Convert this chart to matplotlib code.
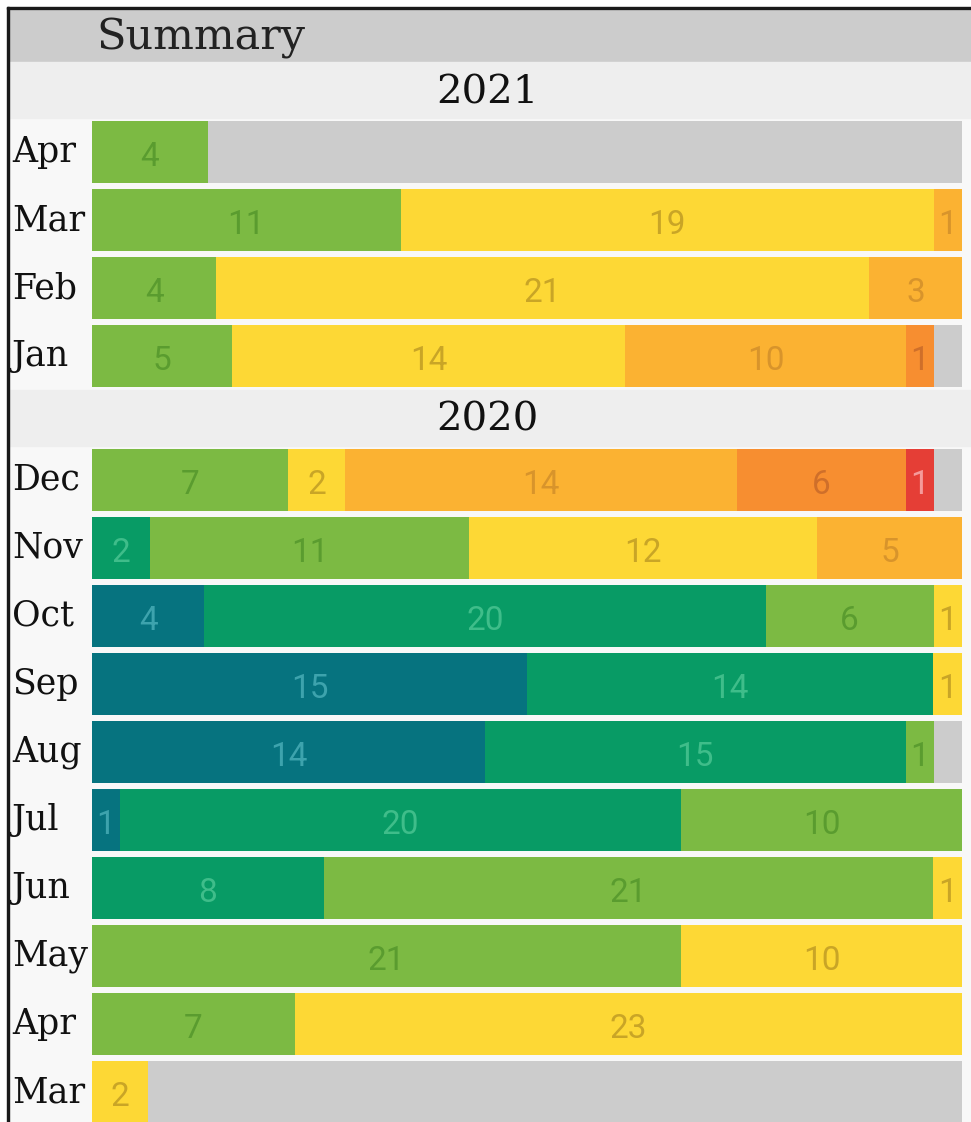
import matplotlib
matplotlib.use("Agg")
import matplotlib.pyplot as plt
from matplotlib.patches import Rectangle
import numpy as np

# ---------------- data ----------------
months = ['Apr', 'Mar', 'Feb', 'Jan',
          'Dec', 'Nov', 'Oct', 'Sep', 'Aug', 'Jul', 'Jun', 'May', 'Apr', 'Mar']
years = [2021, 2021, 2021, 2021,
         2020, 2020, 2020, 2020, 2020, 2020, 2020, 2020, 2020, 2020]

teal         = [0, 0, 0, 0,   0, 0, 4, 15, 14, 1, 0, 0, 0, 0]
green        = [0, 0, 0, 0,   0, 2, 20, 14, 15, 20, 8, 0, 0, 0]
light_green  = [4, 11, 4, 5,  7, 11, 6, 0, 1, 10, 21, 21, 7, 0]
yellow       = [0, 19, 21, 14, 2, 12, 1, 1, 0, 0, 1, 10, 23, 2]
light_orange = [0, 1, 3, 10,  14, 5, 0, 0, 0, 0, 0, 0, 0, 0]
orange       = [0, 0, 0, 1,   6, 0, 0, 0, 0, 0, 0, 0, 0, 0]
red          = [0, 0, 0, 0,   1, 0, 0, 0, 0, 0, 0, 0, 0, 0]
no_data      = [26, 0, 0, 1,  1, 0, 0, 0, 1, 0, 0, 0, 0, 29]

series = [teal, green, light_green, yellow, light_orange, orange, red, no_data]
bar_colors = ['#06737f', '#089b65', '#7cba43', '#fdd835',
              '#fbb232', '#f78e30', '#e53e36', '#cccccc']
text_colors = ['#3da3ad', '#3fbd8a', '#5a9c2f', '#c9a526',
               '#d8942b', '#cf6f2a', '#f59a9a', None]

# ---------------- layout ----------------
W, H = 971, 1122
fig = plt.figure(figsize=(W / 100, H / 100), dpi=100)
fig.patch.set_facecolor('#ffffff')

x0, x1 = 92, 962  # pixel extent of full bar
ax = fig.add_axes([0, 0, 1, 1])
ax.set_xlim(-x0 / (x1 - x0), (W - x0) / (x1 - x0))
ax.set_ylim(H, 0)
ax.axis('off')

ax.add_patch(Rectangle((0, 0), 1, 1, transform=ax.transAxes, color='#f8f8f8', zorder=0))

def prect(px, py, pw, ph, color, z=1):
    fig.patches.append(Rectangle((px / W, 1 - (py + ph) / H), pw / W, ph / H,
                                 transform=fig.transFigure, color=color, zorder=z))

prect(0, 0, W, 9, '#ffffff', 5)
prect(0, 0, 7, H, '#ffffff', 5)
prect(7, 7, W - 7, 2.2, '#1a1a1a', 6)
prect(7, 7, 2.2, H - 7, '#1a1a1a', 6)
prect(9, 9, W - 9, 53, '#cccccc', 1)
prect(9, 62, W - 9, 56, '#eeeeee', 1)
prect(9, 390, W - 9, 56, '#eeeeee', 1)

serif = ['DejaVu Serif']
fig.text(96 / W, 1 - 38 / H, 'Summary', fontsize=31, family=serif,
         color='#222222', va='center', ha='left', zorder=7)
fig.text(487 / W, 1 - 93 / H, '2021', fontsize=29, family=serif,
         color='#111111', va='center', ha='center', zorder=7)
fig.text(487 / W, 1 - 420 / H, '2020', fontsize=29, family=serif,
         color='#111111', va='center', ha='center', zorder=7)

ypos = []
for i, yr in enumerate(years):
    if yr == 2021:
        ypos.append(152 + 68 * i)
    else:
        ypos.append(479.5 + 68.1 * (i - 4))
ypos = np.array(ypos)

totals = np.sum(np.array(series), axis=0)
left = np.zeros(len(months))
for vals, bc, tc in zip(series, bar_colors, text_colors):
    vals = np.array(vals, dtype=float)
    frac = vals / totals
    ax.barh(ypos, frac, left=left, height=62, color=bc, edgecolor='none', zorder=2)
    if tc is not None:
        for j, v in enumerate(vals):
            if v > 0:
                ax.text(left[j] + frac[j] / 2, ypos[j] + 5, f'{int(v)}',
                        ha='center', va='center', fontsize=24,
                        family=['Roboto', 'DejaVu Sans'], color=tc, zorder=3)
    left += frac

for y, m in zip(ypos, months):
    ax.text(12 / W, y, m, transform=ax.get_yaxis_transform(),
            fontsize=25, family=serif, color='#111111',
            va='center', ha='left', zorder=4)

fig.savefig('out.png', dpi=100, facecolor=fig.get_facecolor())
